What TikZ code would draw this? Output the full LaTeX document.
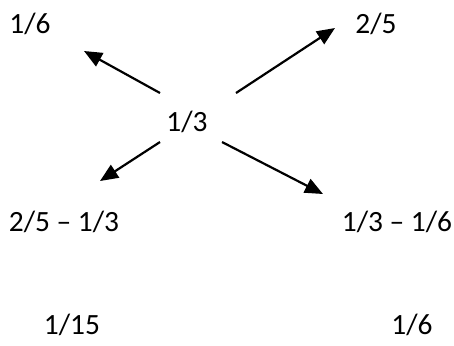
\documentclass[tikz,border=0pt]{standalone}
\usepackage{fontspec}
\setmainfont{Carlito}
\usetikzlibrary{arrows.meta}
\tikzset{
	frac/.style={inner sep=0pt, font=\fontsize{14.7}{17}\selectfont},
	arr/.style={line width=1.1pt, -{Triangle[length=9pt,width=7.5pt]}}
}
\begin{document}
\begin{tikzpicture}[x=0.5pt,y=-0.5pt]
	\useasboundingbox (0,0) rectangle (454,345);
	
	% Centre value
	\node[frac] (mid) at (187,122) {1/3};
	
	% Values in the corners
	\node[frac] (tl) at (30,24) {1/6};
	\node[frac] (tr) at (376,24) {2/5};
	\node[frac] (bl) at (64,222) {2/5 – 1/3};
	\node[frac] (br) at (397,222) {1/3 – 1/6};
	
	% Results below
	\node[frac] (resl) at (72,325) {1/15};
	\node[frac] (resr) at (412,325) {1/6};
	
	% Arrow ends round the centre value
	\coordinate (s1) at (160,93);  \coordinate (e1) at (84,51);
	\coordinate (s2) at (236,93);  \coordinate (e2) at (335,28);
	\coordinate (s3) at (160,142); \coordinate (e3) at (100,181);
	\coordinate (s4) at (222,142); \coordinate (e4) at (323,194);
	
	% Arrows
	\foreach \i in {1,2,3,4} {
		\draw[arr] (s\i) -- (e\i);
	}
\end{tikzpicture}
\end{document}
